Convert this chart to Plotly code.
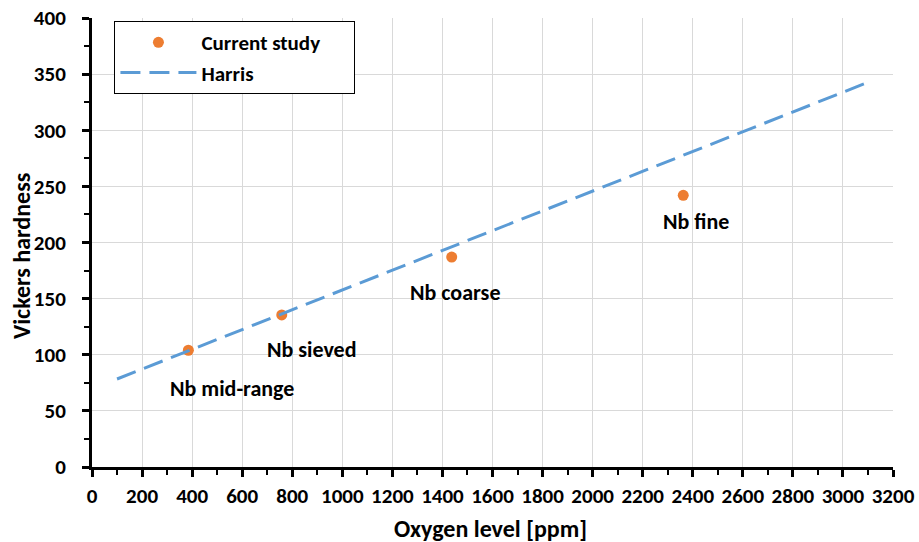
import plotly.graph_objects as go

# Measured hardness of Nb powder grades
samples = ["Nb mid-range", "Nb sieved", "Nb coarse", "Nb fine"]
oxygen_ppm = [385, 758, 1437, 2362]
hardness_hv = [104, 135.5, 187, 242]

# Harris relation (straight line between its end values)
harris_oxygen = [100, 3100]
harris_hv = [78.4, 342.7]

# Label placement offsets (pixels) for each sample
label_dx = [44, 30, 3, 13]
label_dy = [-38, -35, -35, -26]

FONT = "Calibri, Carlito, Lato, sans-serif"
ORANGE = "#ED7D31"
BLUE = "#5B9BD5"
PAD = "\u00a0" * 6  # right padding inside the legend box

fig = go.Figure()

fig.add_trace(go.Scatter(
    x=oxygen_ppm, y=hardness_hv, mode="markers", name="Current study" + PAD,
    marker=dict(color=ORANGE, size=11, line=dict(width=0)),
    legendgroup="a",
))
fig.add_trace(go.Scatter(
    x=harris_oxygen, y=harris_hv, mode="lines", name="Harris",
    line=dict(color=BLUE, width=3, dash="20px,9px"),
    legendgroup="b",
))

for name, xv, yv, dx, dy in zip(samples, oxygen_ppm, hardness_hv, label_dx, label_dy):
    fig.add_annotation(x=xv, y=yv, xref="x", yref="y", text=name, showarrow=False,
                       xshift=dx, yshift=dy,
                       font=dict(family=FONT, size=22, color="black", weight="bold"))

fig.add_annotation(text="Oxygen level [ppm]", xref="paper", yref="paper",
                   x=0.497, y=0, yshift=-61, yanchor="middle", showarrow=False,
                   font=dict(family=FONT, size=24, color="black", weight="bold"))
fig.add_annotation(text="Vickers hardness", xref="paper", yref="paper",
                   x=0, y=0.47, xshift=-70, xanchor="center", yanchor="middle",
                   textangle=-90, showarrow=False,
                   font=dict(family=FONT, size=24, color="black", weight="bold"))

axis_common = dict(
    showline=True, linecolor="black", linewidth=3,
    ticks="outside", ticklen=7, tickwidth=2.5, tickcolor="black",
    showgrid=True, gridcolor="#d9d9d9", gridwidth=1,
    zeroline=False, automargin=False,
    tickfont=dict(family=FONT, size=21, color="black", weight="bold"),
)

fig.update_xaxes(
    range=[0, 3200], dtick=200, tick0=0,
    minor=dict(dtick=100, ticks="outside", ticklen=5, tickwidth=2, tickcolor="black", showgrid=False),
    ticklabelstandoff=1,
    **axis_common,
)
fig.update_yaxes(
    range=[0, 400], dtick=50, tick0=0,
    minor=dict(dtick=25, ticks="outside", ticklen=5, tickwidth=2, tickcolor="black", showgrid=False),
    ticklabelstandoff=12,
    **axis_common,
)

fig.update_layout(
    width=919, height=542,
    margin=dict(l=92, r=26, t=18, b=75),
    plot_bgcolor="white", paper_bgcolor="white",
    showlegend=True,
    legend=dict(
        x=0.028, y=0.993, xanchor="left", yanchor="top",
        bgcolor="white", bordercolor="black", borderwidth=1,
        font=dict(family=FONT, size=21, color="black", weight="bold"),
        traceorder="grouped", tracegroupgap=0, itemwidth=76,
    ),
)

fig.write_html("out.html")
